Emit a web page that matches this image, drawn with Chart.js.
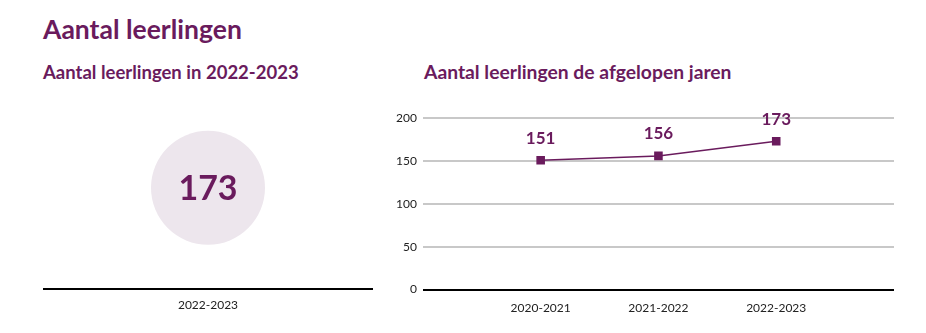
<!DOCTYPE html>
<html>
<head>
<meta charset="utf-8">
<script src="https://cdn.jsdelivr.net/npm/chart.js@4"></script>
<style>
  body { margin: 0; background: #fff; font-family: Lato, sans-serif; color: #6a1b5d; }
  .wrap { position: relative; width: 926px; height: 333px; }
  h1 { position: absolute; left: 43px; top: 13px; margin: 0; font-size: 26.5px; font-weight: 700; }
  h2 { position: absolute; margin: 0; font-weight: 700; }
  .box { position: absolute; }
</style>
</head>
<body>
<div class="wrap">
  <h1>Aantal leerlingen</h1>
  <h2 style="left:43px;top:61px;font-size:18.5px">Aantal leerlingen in 2022-2023</h2>
  <h2 style="left:424px;top:60px;font-size:19.3px">Aantal leerlingen de afgelopen jaren</h2>
  <div class="box" style="left:43px;top:87px;width:330px;height:234px"><canvas id="nowChart"></canvas></div>
  <div class="box" style="left:380px;top:105px;width:530px;height:221px"><canvas id="trendChart"></canvas></div>
</div>
<script>
const purple = '#6a1b5d';

// huidig schooljaar
const nowYear = ['2022-2023'];
const nowCount = [173];

// afgelopen jaren (lege labels aan de randen voor ruimte)
const years = ['', '2020-2021', '2021-2022', '2022-2023', ''];
const counts = [null, 151, 156, 173, null];
const yTicks = [0, 50, 100, 150, 200];

const tickFont = { family: 'Lato', size: 12 };

// zet de waarde boven/in het punt
const valueLabels = {
  id: 'valueLabels',
  afterDatasetsDraw(chart, args, opts) {
    const ctx = chart.ctx;
    const meta = chart.getDatasetMeta(0);
    ctx.save();
    ctx.fillStyle = purple;
    ctx.font = 'bold ' + opts.size + 'px Lato';
    ctx.textAlign = 'center';
    ctx.textBaseline = 'middle';
    meta.data.forEach((pt, i) => {
      const v = chart.data.datasets[0].data[i];
      if (v == null) return;
      ctx.fillText(v, pt.x, pt.y + opts.dy);
    });
    ctx.restore();
  }
};

Chart.defaults.animation = false;
Chart.defaults.color = '#222';

new Chart(document.getElementById('nowChart'), {
  type: 'line',
  data: {
    labels: nowYear,
    datasets: [{
      data: nowCount,
      showLine: false,
      pointRadius: 57,
      pointHoverRadius: 57,
      pointBackgroundColor: '#ede6ed',
      pointBorderWidth: 0,
      clip: false
    }]
  },
  options: {
    maintainAspectRatio: false,
    layout: { padding: 0, autoPadding: false },
    plugins: { legend: { display: false }, tooltip: { enabled: false }, valueLabels: { size: 34, dy: 1 } },
    scales: {
      x: {
        offset: true,
        grid: { display: false, drawTicks: false },
        border: { color: '#000', width: 2 },
        ticks: { font: tickFont, padding: 9, maxRotation: 0 }
      },
      y: { display: false, min: 0, max: 346 }
    }
  },
  plugins: [valueLabels]
});

new Chart(document.getElementById('trendChart'), {
  type: 'line',
  data: {
    labels: years,
    datasets: [{
      data: counts,
      borderColor: purple,
      borderWidth: 1.5,
      pointStyle: 'rect',
      pointRadius: 5,
      pointBackgroundColor: purple,
      pointBorderColor: purple,
      spanGaps: false,
      clip: false
    }]
  },
  options: {
    maintainAspectRatio: false,
    layout: { padding: { left: 10, right: 16, top: 0 } },
    plugins: { legend: { display: false }, tooltip: { enabled: false }, valueLabels: { size: 17, dy: -22 } },
    scales: {
      x: {
        offset: false,
        grid: { display: false, drawTicks: false },
        border: { display: false },
        ticks: { font: tickFont, autoSkip: false, maxRotation: 0, padding: 11 }
      },
      y: {
        min: 0, max: 200,
        afterBuildTicks: axis => { axis.ticks = yTicks.map(v => ({ value: v })); },
        border: { display: false },
        grid: {
          color: c => c.tick && c.tick.value === 0 ? '#000' : '#c8c8c8',
          lineWidth: 2,
          drawTicks: false
        },
        ticks: { font: tickFont, padding: 6 }
      }
    }
  },
  plugins: [valueLabels]
});
</script>
</body>
</html>
